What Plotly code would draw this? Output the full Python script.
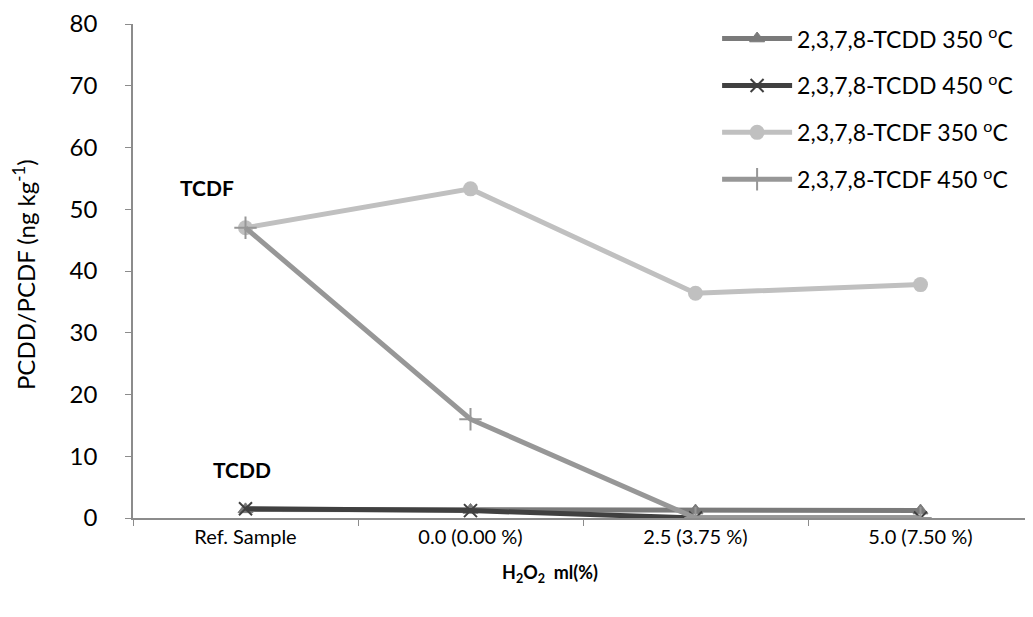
import plotly.graph_objects as go

categories = ["Ref. Sample", "0.0 (0.00 %)", "2.5 (3.75 %)", "5.0 (7.50 %)"]
tcdd_350 = [1.4, 1.3, 1.2, 1.2]
tcdd_450 = [1.5, 1.2, 0.0, 0.0]
tcdf_350 = [47.0, 53.3, 36.4, 37.8]
tcdf_450 = [47.0, 16.0, 0.0, 0.0]
y_ticks = [0, 10, 20, 30, 40, 50, 60, 70, 80]

FONT = "Lato, 'Open Sans', sans-serif"

series = [
    ("2,3,7,8-TCDD 350 <sup>o</sup>C", tcdd_350, "#7a7a7a", "triangle-up", 13, 1),
    ("2,3,7,8-TCDD 450 <sup>o</sup>C", tcdd_450, "#404040", "x-thin-open", 13, 2),
    ("2,3,7,8-TCDF 350 <sup>o</sup>C", tcdf_350, "#c0c0c0", "circle", 15, 0),
    ("2,3,7,8-TCDF 450 <sup>o</sup>C", tcdf_450, "#979797", "cross-thin-open", 16, 2),
]

fig = go.Figure()
for i, (name, vals, col, sym, size, lw) in enumerate(series):
    fig.add_trace(go.Scatter(
        x=categories, y=vals, name=name, mode="lines+markers",
        line=dict(color=col, width=5),
        marker=dict(symbol=sym, size=size, color=col,
                    line=dict(color=col, width=lw if lw else 0)),
        legendgroup=f"g{i}",
    ))

fig.add_annotation(x=categories[0], y=47, text="<b>TCDF</b>", showarrow=False,
                   xshift=-39, yshift=40, font=dict(size=21, color="black", family=FONT))
fig.add_annotation(x=categories[0], y=1.5, text="<b>TCDD</b>", showarrow=False,
                   xshift=-4, yshift=39, font=dict(size=21, color="black", family=FONT))
fig.add_annotation(xref="paper", yref="paper", x=-0.121, y=0.492,
                   xanchor="center", yanchor="middle", textangle=-90, showarrow=False,
                   text="PCDD/PCDF (ng kg<sup>-1</sup>)",
                   font=dict(size=24, family=FONT, color="black"))
fig.add_annotation(xref="paper", yref="paper", x=0.463, y=-0.113,
                   xanchor="center", yanchor="middle", showarrow=False,
                   text="<b>H<sub>2</sub>O<sub>2</sub>  ml(%)</b>",
                   font=dict(size=18, family=FONT, color="black"))

fig.update_layout(
    width=1025, height=609,
    margin=dict(l=125, r=0, t=14, b=99),
    paper_bgcolor="white", plot_bgcolor="white",
    font=dict(family=FONT, color="black"),
    showlegend=True,
    legend=dict(x=0.649, y=1.014, xanchor="left", yanchor="top",
                font=dict(size=23, family=FONT, color="black"),
                tracegroupgap=14, bgcolor="rgba(0,0,0,0)", itemwidth=70),
    xaxis=dict(
        type="category", range=[-0.5, 3.5], showgrid=False, zeroline=False,
        showline=True, linecolor="#8c8c8c", linewidth=1.5,
        ticks="outside", tickson="boundaries", ticklen=6, tickcolor="#8c8c8c",
        ticklabeloverflow="allow",
        tickfont=dict(size=20, family=FONT, color="black"),
    ),
    yaxis=dict(
        range=[0, 80], tickvals=y_ticks, showgrid=False, zeroline=False,
        showline=True, linecolor="#8c8c8c", linewidth=1.5,
        ticks="outside", ticklen=6, tickcolor="#8c8c8c", ticklabelstandoff=23,
        ticklabeloverflow="allow",
        tickfont=dict(size=24, family=FONT, color="black"),
    ),
)

fig.write_html("out.html")
